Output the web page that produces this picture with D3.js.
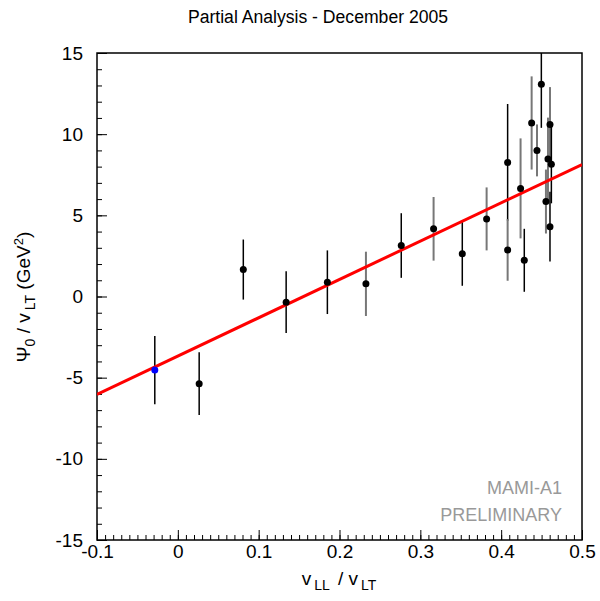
<!DOCTYPE html>
<html>
<head>
<meta charset="utf-8">
<script src="https://cdn.jsdelivr.net/npm/d3@7"></script>
<style>
  body { margin: 0; background: #fff; }
  svg { font-family: "Liberation Sans", Arial, sans-serif; }
</style>
</head>
<body>
<svg id="chart" width="600" height="601"></svg>
<script>
// ratio vLL/vLT, Psi0/vLT, error, error bar colour
const ratios = [-0.0285, 0.0264, 0.081, 0.134, 0.185, 0.2327, 0.2764, 0.3164, 0.3519, 0.382,
    0.408, 0.408, 0.424, 0.4286, 0.4377, 0.4443, 0.4497, 0.4554, 0.4579, 0.4604, 0.4621, 0.4604]
const psiValues = [-4.53, -5.37, 1.66, -0.35, 0.88, 0.78, 3.14, 4.17, 2.63, 4.78,
    8.26, 2.87, 6.66, 2.23, 10.69, 9.0, 13.07, 5.85, 8.47, 10.6, 8.14, 4.3]
const errors = [2.1, 1.93, 1.85, 1.9, 1.96, 1.98, 1.99, 1.96, 1.97, 1.94,
    3.6, 1.9, 3.08, 1.94, 2.87, 1.6, 2.68, 1.97, 2.55, 2.3, 2.4, 2.15]
const barGray = [0, 0, 0, 0, 0, 1, 0, 1, 0, 1,
    0, 1, 1, 0, 1, 1, 0, 1, 1, 1, 0, 0]
const highlighted = 0   // index of the blue point

// linear fit
const fitIntercept = -3.67
const fitSlope = 23.6

const xTicks = [-0.1, 0, 0.1, 0.2, 0.3, 0.4, 0.5]
const yTicks = [-15, -10, -5, 0, 5, 10, 15]

const svg = d3.select('#chart')

const x = d3.scaleLinear().domain([-0.1, 0.5]).range([97, 582])
const y = d3.scaleLinear().domain([-15, 15]).range([540, 53])

svg.append('defs').append('clipPath').attr('id', 'plot-clip')
    .append('rect')
    .attr('x', x.range()[0]).attr('y', y.range()[1])
    .attr('width', x.range()[1] - x.range()[0])
    .attr('height', y.range()[0] - y.range()[1])

// minor ticks
const xMinor = d3.range(-100, 501, 10).map(d => d / 1000)
const yMinor = d3.range(-15, 16, 1)

svg.append('g')
    .attr('transform', `translate(0, ${y.range()[0]})`)
    .call(d3.axisBottom(x).tickValues(xMinor).tickSize(-5).tickFormat(''))
    .call(g => g.select('.domain').remove())
svg.append('g')
    .attr('transform', `translate(${x.range()[0]}, 0)`)
    .call(d3.axisLeft(y).tickValues(yMinor).tickSize(-5).tickFormat(''))
    .call(g => g.select('.domain').remove())

// major ticks + labels
svg.append('g')
    .attr('transform', `translate(0, ${y.range()[0]})`)
    .call(d3.axisBottom(x).tickValues(xTicks).tickSize(-10).tickPadding(5).tickFormat(d => String(d)))
    .call(g => g.select('.domain').remove())
    .call(g => g.selectAll('text').attr('font-size', 19).attr('fill', '#000').attr('dy', '0.71em')
        .attr('font-family', '"Liberation Sans", Arial, sans-serif'))

svg.append('g')
    .attr('transform', `translate(${x.range()[0]}, 0)`)
    .call(d3.axisLeft(y).tickValues(yTicks).tickSize(-10).tickPadding(14).tickFormat(d => String(d)))
    .call(g => g.select('.domain').remove())
    .call(g => g.selectAll('text').attr('font-size', 19).attr('fill', '#000')
        .attr('font-family', '"Liberation Sans", Arial, sans-serif'))

svg.selectAll('.tick line').attr('stroke', '#000').attr('stroke-width', 1)

// frame
svg.append('rect')
    .attr('x', x.range()[0]).attr('y', y.range()[1])
    .attr('width', x.range()[1] - x.range()[0])
    .attr('height', y.range()[0] - y.range()[1])
    .attr('fill', 'none')
    .attr('stroke', '#000')
    .attr('stroke-width', 1.5)

const plot = svg.append('g').attr('clip-path', 'url(#plot-clip)')

const points = ratios.map((r, i) => ({ r, v: psiValues[i], e: errors[i], gray: barGray[i], i }))

// error bars
plot.selectAll('line.err')
    .data(points)
    .join('line')
    .attr('class', 'err')
    .attr('x1', d => x(d.r)).attr('x2', d => x(d.r))
    .attr('y1', d => y(d.v + d.e)).attr('y2', d => y(d.v - d.e))
    .attr('stroke', d => d.gray ? '#777' : '#000')
    .attr('stroke-width', d => d.gray ? 2 : 1.5)

// fit line
plot.append('line')
    .attr('x1', x(-0.1)).attr('y1', y(fitIntercept + fitSlope * -0.1))
    .attr('x2', x(0.5)).attr('y2', y(fitIntercept + fitSlope * 0.5))
    .attr('stroke', '#ff0000')
    .attr('stroke-width', 3)

// markers
plot.selectAll('circle')
    .data(points)
    .join('circle')
    .attr('cx', d => x(d.r))
    .attr('cy', d => y(d.v))
    .attr('r', 3.5)
    .attr('fill', d => d.i === highlighted ? '#0000ff' : '#000')

// title
svg.append('text')
    .attr('x', 318).attr('y', 23)
    .attr('text-anchor', 'middle')
    .attr('font-size', 17.6)
    .text('Partial Analysis - December 2005')

// watermark
svg.append('g')
    .attr('fill', '#999')
    .attr('font-size', 18)
    .attr('text-anchor', 'end')
    .call(g => g.append('text').attr('x', 562).attr('y', 494).text('MAMI-A1'))
    .call(g => g.append('text').attr('x', 562).attr('y', 521).text('PRELIMINARY'))

// x axis title
const xt = svg.append('text')
    .attr('x', 339).attr('y', 585)
    .attr('text-anchor', 'middle')
    .attr('font-size', 19)
xt.append('tspan').text('v')
xt.append('tspan').text('LL').attr('font-size', 14).attr('dy', 5).attr('dx', 3)
xt.append('tspan').text(' / v').attr('dy', -5).attr('dx', 3)
xt.append('tspan').text('LT').attr('font-size', 14).attr('dy', 5).attr('dx', 3)

// y axis title
const yt = svg.append('text')
    .attr('transform', 'translate(30, 297) rotate(-90)')
    .attr('text-anchor', 'middle')
    .attr('font-size', 19)
yt.append('tspan').text('\u03A8')
yt.append('tspan').text('0').attr('font-size', 14).attr('dy', 5)
yt.append('tspan').text(' / v').attr('dy', -5)
yt.append('tspan').text('LT').attr('font-size', 14).attr('dy', 5).attr('dx', 3)
yt.append('tspan').text(' (GeV').attr('dy', -5)
yt.append('tspan').text('2').attr('font-size', 13).attr('dy', -7)
yt.append('tspan').text(')').attr('dy', 7)
</script>
</body>
</html>
